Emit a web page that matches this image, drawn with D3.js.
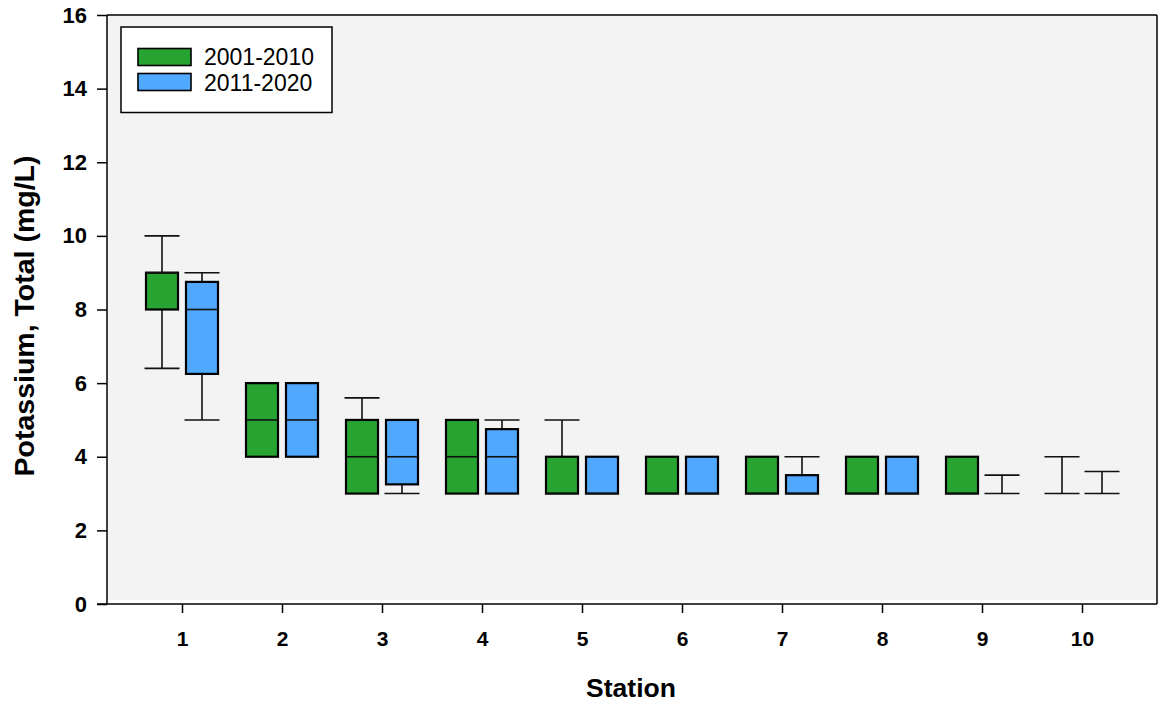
<!DOCTYPE html>
<meta charset="utf-8">
<script src="https://d3js.org/d3.v7.min.js"></script>
<style>
  body { margin: 0; background: #fff; }
  text { font-family: "Liberation Sans", Arial, sans-serif; }
</style>
<body>
<div id="chart"></div>
<script>
  // station numbers and the two decades
  const stations = [1, 2, 3, 4, 5, 6, 7, 8, 9, 10];
  const periods = ["2001-2010", "2011-2020"];
  const colors = ["#27a331", "#50a8ff"];

  // box stats per station: [whiskerLow, q1, median, q3, whiskerHigh]
  const stats2001 = [
    [6.4, 8, 9, 9, 10],
    [4, 4, 5, 6, 6],
    [3, 3, 4, 5, 5.6],
    [3, 3, 4, 5, 5],
    [3, 3, 3, 4, 5],
    [3, 3, 3, 4, 4],
    [3, 3, 3, 4, 4],
    [3, 3, 3, 4, 4],
    [3, 3, 3, 4, 4],
    [3, 3, 3, 3, 4]
  ];
  const stats2011 = [
    [5, 6.25, 8, 8.75, 9],
    [4, 4, 5, 6, 6],
    [3, 3.25, 4, 5, 5],
    [3, 3, 4, 4.75, 5],
    [3, 3, 3, 4, 4],
    [3, 3, 3, 4, 4],
    [3, 3, 3, 3.5, 4],
    [3, 3, 3, 4, 4],
    [3, 3, 3, 3, 3.5],
    [3, 3, 3, 3, 3.6]
  ];
  const yTicks = [0, 2, 4, 6, 8, 10, 12, 14, 16];

  const width = 1162, height = 706;
  const mLeft = 107, mRight = 1157, mTop = 15, mBottom = 604;

  const svg = d3.select("#chart").append("svg")
    .attr("width", width)
    .attr("height", height);

  const x = d3.scaleLinear().domain([0.25, 10.75]).range([mLeft, mRight]);
  const y = d3.scaleLinear().domain([0, 16]).range([mBottom, mTop]);

  // plot background
  svg.append("rect")
    .attr("x", mLeft).attr("y", mTop)
    .attr("width", mRight - mLeft - 1).attr("height", 600 - mTop)
    .attr("fill", "#f3f3f3");

  // frame top + right
  svg.append("line").attr("x1", mLeft).attr("x2", mRight).attr("y1", mTop).attr("y2", mTop)
    .attr("stroke", "#000").attr("stroke-width", 1.5);
  svg.append("line").attr("x1", mRight).attr("x2", mRight).attr("y1", mTop).attr("y2", mBottom)
    .attr("stroke", "#000").attr("stroke-width", 1.5);

  // axes
  const yAxis = svg.append("g")
    .attr("transform", `translate(${mLeft},0)`)
    .call(d3.axisLeft(y).tickValues(yTicks).tickSize(10).tickPadding(10));
  const xAxis = svg.append("g")
    .attr("transform", `translate(0,${mBottom})`)
    .call(d3.axisBottom(x).tickValues(stations).tickSize(9).tickPadding(18).tickFormat(d3.format("d")));

  [yAxis, xAxis].forEach((g, k) => {
    g.select(".domain").remove();
    g.selectAll("line").attr("stroke", "#000").attr("stroke-width", 1.5);
    g.selectAll("text")
      .style("font-size", (k === 0 ? 22 : 21) + "px").style("font-weight", "bold").attr("fill", "#000")
      .style("font-family", "'Liberation Sans', Arial, sans-serif");
  });
  svg.append("line").attr("x1", mLeft).attr("x2", mLeft).attr("y1", mTop).attr("y2", mBottom)
    .attr("stroke", "#000").attr("stroke-width", 1.5);
  svg.append("line").attr("x1", mLeft - 10).attr("x2", mRight).attr("y1", mBottom).attr("y2", mBottom)
    .attr("stroke", "#000").attr("stroke-width", 1.5);

  // boxes
  const boxW = 32, offset = 20, capW = 35;
  [stats2001, stats2011].forEach((series, si) => {
    const dx = si === 0 ? -offset : offset;
    const g = svg.append("g");
    series.forEach((s, i) => {
      const cx = x(stations[i]) + dx;
      const [lo, q1, med, q3, hi] = s;
      // whiskers
      if (hi > q3) {
        g.append("line").attr("x1", cx).attr("x2", cx).attr("y1", y(q3)).attr("y2", y(hi))
          .attr("stroke", "#111").attr("stroke-width", 1.6);
        g.append("line").attr("x1", cx - capW / 2).attr("x2", cx + capW / 2)
          .attr("y1", y(hi)).attr("y2", y(hi)).attr("stroke", "#111").attr("stroke-width", 1.6);
      }
      if (lo < q1) {
        g.append("line").attr("x1", cx).attr("x2", cx).attr("y1", y(q1)).attr("y2", y(lo))
          .attr("stroke", "#111").attr("stroke-width", 1.6);
        g.append("line").attr("x1", cx - capW / 2).attr("x2", cx + capW / 2)
          .attr("y1", y(lo)).attr("y2", y(lo)).attr("stroke", "#111").attr("stroke-width", 1.6);
      }
      if (q3 > q1) {
        g.append("rect")
          .attr("x", cx - boxW / 2).attr("y", y(q3))
          .attr("width", boxW).attr("height", y(q1) - y(q3))
          .attr("fill", colors[si]).attr("stroke", "#000").attr("stroke-width", 2.2);
        g.append("line").attr("x1", cx - boxW / 2).attr("x2", cx + boxW / 2)
          .attr("y1", y(med)).attr("y2", y(med)).attr("stroke", "#111").attr("stroke-width", 1.6);
      } else {
        g.append("line").attr("x1", cx - capW / 2).attr("x2", cx + capW / 2)
          .attr("y1", y(q1)).attr("y2", y(q1)).attr("stroke", "#111").attr("stroke-width", 1.6);
      }
    });
  });

  // legend
  const lg = svg.append("g");
  lg.append("rect").attr("x", 121).attr("y", 27).attr("width", 211).attr("height", 85.5)
    .attr("fill", "#fff").attr("stroke", "#000").attr("stroke-width", 1.5);
  periods.forEach((p, i) => {
    lg.append("rect").attr("x", 138).attr("y", 48.5 + i * 25).attr("width", 53).attr("height", 17)
      .attr("fill", colors[i]).attr("stroke", "#000").attr("stroke-width", 1.6);
    lg.append("text").attr("x", 204).attr("y", 65 + i * 25.5)
      .attr("font-size", 23).attr("fill", "#000").text(p);
  });

  // titles
  svg.append("text")
    .attr("x", 631).attr("y", 697)
    .attr("text-anchor", "middle")
    .attr("font-size", 26.5).attr("font-weight", "bold")
    .text("Station");
  svg.append("text")
    .attr("transform", `translate(34,316) rotate(-90)`)
    .attr("text-anchor", "middle")
    .attr("font-size", 28.5).attr("font-weight", "bold")
    .text("Potassium, Total (mg/L)");
</script>
</body>
